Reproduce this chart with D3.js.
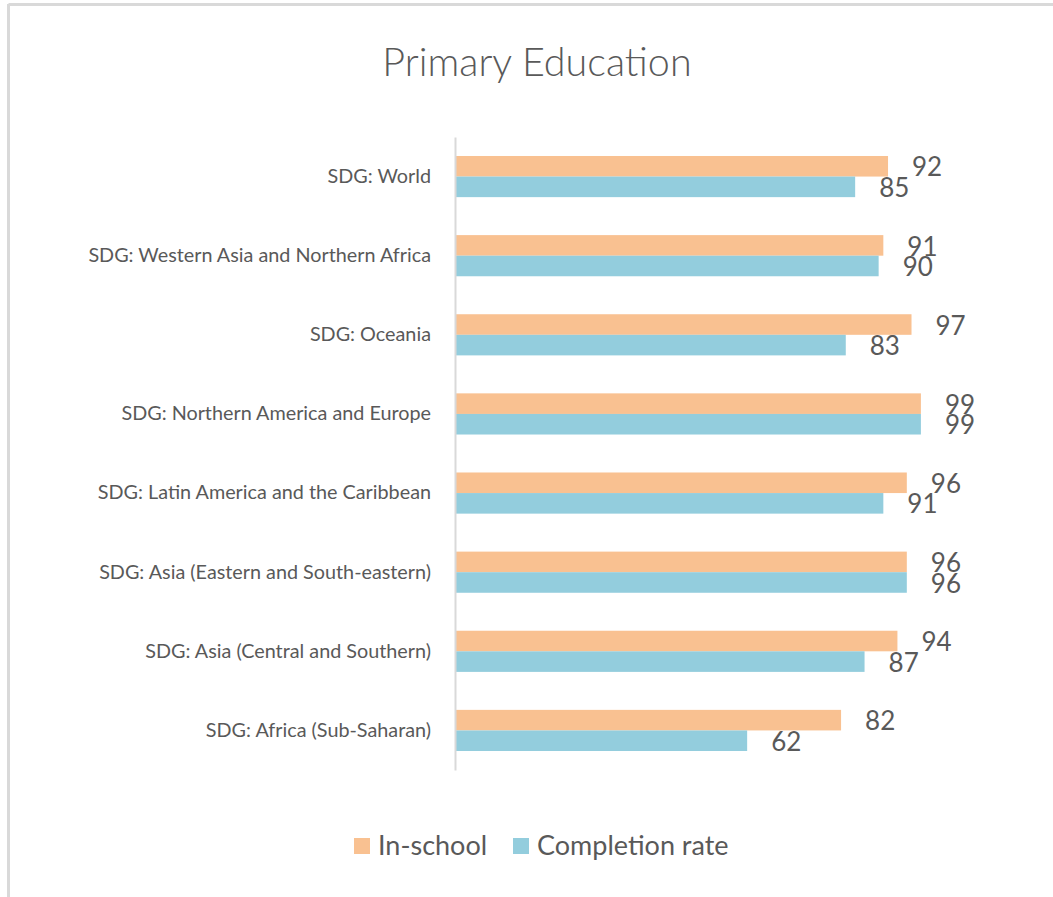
<!DOCTYPE html>
<html>
<head>
<meta charset="utf-8">
<script src="https://cdn.jsdelivr.net/npm/d3@7"></script>
<style>
html,body{margin:0;padding:0;background:#fff;}
svg{display:block;}
text{font-family:Lato,"Open Sans",sans-serif;fill:#595959;}
</style>
</head>
<body>
<svg id="chart" width="1053" height="897"></svg>
<script>
const categories = [
  "SDG: World",
  "SDG: Western Asia and Northern Africa",
  "SDG: Oceania",
  "SDG: Northern America and Europe",
  "SDG: Latin America and the Caribbean",
  "SDG: Asia (Eastern and South-eastern)",
  "SDG: Asia (Central and Southern)",
  "SDG: Africa (Sub-Saharan)"
];
const seriesNames = ["In-school", "Completion rate"];
const inSchool = [92, 91, 97, 99, 96, 96, 94, 82];
const completion = [85, 90, 83, 99, 91, 96, 87, 62];
const colors = ["#F9C191", "#93CDDD"];
const title = "Primary Education";

const svg = d3.select("#chart");

// chart border
svg.append("line").attr("x1", 8.5).attr("x2", 1053).attr("y1", 4.5).attr("y2", 4.5)
  .attr("stroke", "#d9d9d9").attr("stroke-width", 3);
svg.append("line").attr("x1", 8.5).attr("x2", 8.5).attr("y1", 4).attr("y2", 897)
  .attr("stroke", "#d9d9d9").attr("stroke-width", 3);

svg.append("text").attr("x", 537).attr("y", 76).attr("text-anchor", "middle")
  .style("font-size", "39.5px").style("font-weight", 300).text(title);

const x = d3.scaleLinear().domain([0, 100]).range([456, 925.6]);
const y = d3.scaleBand().domain(categories).range([137, 770]).paddingInner(0.48).paddingOuter(0.24);
const sub = d3.scaleBand().domain(seriesNames).range([0, y.bandwidth()]);

const data = categories.map((c, i) => ({cat: c, vals: [inSchool[i], completion[i]]}));

const g = svg.append("g");
const groups = g.selectAll("g.cat").data(data).join("g").attr("class", "cat")
  .attr("transform", d => `translate(0,${y(d.cat)})`);

groups.selectAll("rect").data(d => d.vals.map((v, j) => ({v, s: seriesNames[j], j})))
  .join("rect")
  .attr("x", x(0))
  .attr("y", d => sub(d.s))
  .attr("width", d => x(d.v) - x(0))
  .attr("height", sub.bandwidth())
  .attr("fill", d => colors[d.j]);

groups.selectAll("text.val").data(d => d.vals.map((v, j) => ({v, s: seriesNames[j], j})))
  .join("text").attr("class", "val")
  .attr("x", d => x(d.v) + 24)
  .attr("y", d => sub(d.s) + sub.bandwidth() / 2 + 1)
  .attr("dy", "0.35em")
  .style("font-size", "26px")
  .text(d => d.v);

// axis
const yAxis = d3.axisLeft(y).tickSize(0).tickPadding(24);
const ax = svg.append("g").attr("transform", `translate(${x(0) - 1},0)`).call(yAxis);
ax.select(".domain").attr("stroke", "#d9d9d9").attr("stroke-width", 2);
ax.selectAll("text").style("font-size", "19.8px").style("font-family", "Lato, 'Open Sans', sans-serif").attr("fill", "#595959");

// legend
const legend = svg.append("g");
const legX = [354, 513];
seriesNames.forEach((s, i) => {
  legend.append("rect").attr("x", legX[i]).attr("y", 838).attr("width", 16).attr("height", 16).attr("fill", colors[i]);
  legend.append("text").attr("x", legX[i] + 24).attr("y", 846).attr("dy", "0.35em")
    .style("font-size", "27px").text(s);
});
</script>
</body>
</html>
